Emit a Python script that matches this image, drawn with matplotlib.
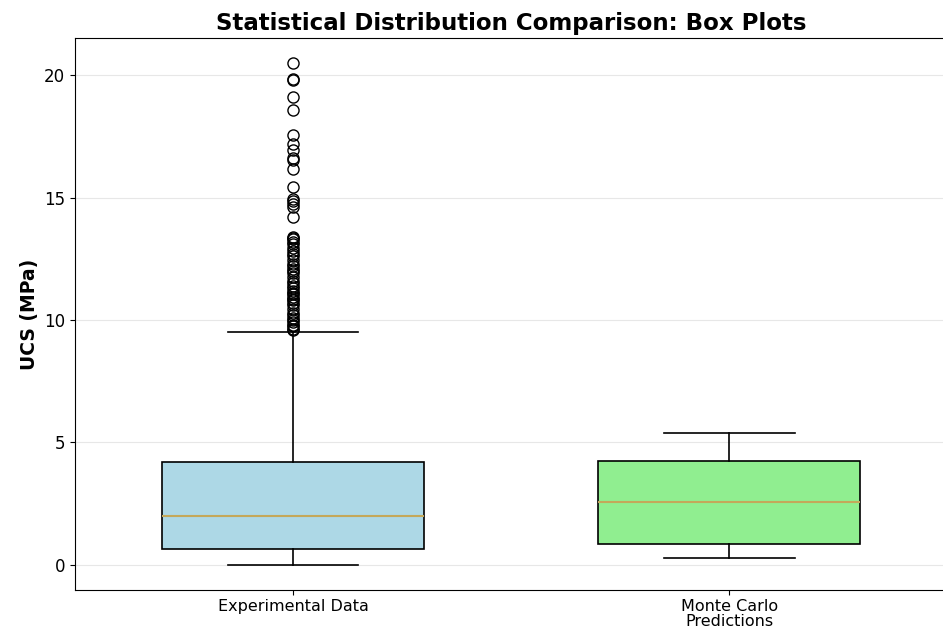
import matplotlib
matplotlib.use("Agg")
import matplotlib.pyplot as plt

# Group labels
categories = ["Experimental Data", "Monte Carlo\nPredictions"]

# Five-number summaries (MPa)
whisker_low = [0.00, 0.29]
q1 = [0.65, 0.86]
median = [2.00, 2.57]
q3 = [4.20, 4.24]
whisker_high = [9.53, 5.38]

# Outliers above the upper whisker for the experimental set
experimental_fliers = [
    20.49, 19.85, 19.80, 19.10, 18.57, 17.56, 17.20, 16.95, 16.62, 16.55,
    16.17, 15.44, 14.95, 14.85, 14.75, 14.62, 14.22,
    13.40, 13.35, 13.30, 13.20, 13.10, 12.95, 12.80, 12.70, 12.60, 12.45,
    12.30, 12.20, 12.10, 12.00, 11.90, 11.75, 11.60, 11.50, 11.40, 11.30,
    11.20, 11.10, 11.05, 10.95, 10.85, 10.80, 10.70, 10.60, 10.45, 10.30,
    10.20, 10.10, 10.00, 9.90, 9.80, 9.75, 9.65, 9.60,
]
monte_carlo_fliers = []

box_colors = ["lightblue", "lightgreen"]

stats = []
fliers = [experimental_fliers, monte_carlo_fliers]
for i, label in enumerate(categories):
    stats.append({
        "label": label,
        "whislo": whisker_low[i],
        "q1": q1[i],
        "med": median[i],
        "q3": q3[i],
        "whishi": whisker_high[i],
        "fliers": fliers[i],
    })

fig = plt.figure(figsize=(9.43, 6.35), dpi=100)
ax = fig.add_axes([0.0795, 0.071, 0.925, 0.869])

bp = ax.bxp(
    stats,
    positions=[1, 2],
    widths=0.6,
    patch_artist=True,
    boxprops=dict(edgecolor="black", linewidth=1.2),
    medianprops=dict(color="#c4a85a", linewidth=1.5),
    whiskerprops=dict(color="black", linewidth=1.2),
    capprops=dict(color="black", linewidth=1.2),
    flierprops=dict(marker="o", markerfacecolor="none",
                    markeredgecolor="black", markersize=8),
)
for patch, color in zip(bp["boxes"], box_colors):
    patch.set_facecolor(color)

ax.set_xlim(0.5, 2.5)
ax.set_title("Statistical Distribution Comparison: Box Plots",
             fontsize=16.5, fontweight="bold")
ax.set_ylabel("UCS (MPa)", fontsize=13.5, fontweight="bold")
ax.tick_params(axis="y", labelsize=12)
ax.tick_params(axis="x", labelsize=11.5, pad=3)
for lbl in ax.get_xticklabels():
    lbl.set_linespacing(1.0)
ax.yaxis.grid(True, color="#dddddd", alpha=0.7, linewidth=0.8)
ax.set_axisbelow(True)

fig.savefig("out.png", dpi=100)
